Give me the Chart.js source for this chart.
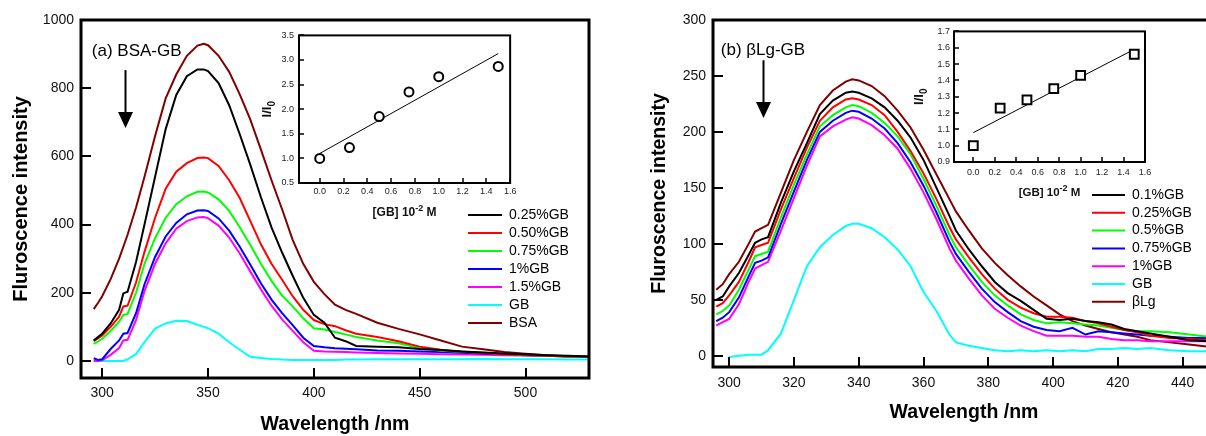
<!DOCTYPE html>
<html>
<head>
<meta charset="utf-8">
<script src="https://cdn.jsdelivr.net/npm/chart.js@4.4.1/dist/chart.umd.min.js"></script>
<style>
	html, body { margin: 0; padding: 0; background: #fff; overflow: hidden; width: 1206px; height: 436px; }
	canvas     { position: absolute; }
</style>
</head>
<body>
<canvas id="bsa"    width="600" height="436" style="left:0;top:0"></canvas>
<canvas id="bsaFit" width="260" height="200" style="left:260px;top:25px"></canvas>
<canvas id="blg"    width="576" height="436" style="left:640px;top:0"></canvas>
<canvas id="blgFit" width="250" height="190" style="left:910px;top:22px"></canvas>
<script>

// Panel (a) BSA-GB
var wlA     = [296,298,300,304,308,310,312,316,320,325,330,335,340,345,348,350,355,360,365,370,375,380,385,390,395,400,405,410,415,420,430,440,450,460,470,480,490,500,510,520,530];
var gb025   = [60,70,80,110,150,198,203,290,400,540,680,780,835,855,855,850,815,750,665,575,480,392,318,250,185,135,112,68,58,44,42,40,35,32,28,25,22,20,17,15,13];
var gb050   = [58,66,75,100,130,160,162,230,320,420,505,555,580,595,597,595,572,530,478,410,342,285,238,190,150,120,108,102,90,80,70,58,42,33,27,23,20,18,15,13,12];
var gb075   = [50,57,65,88,115,135,138,200,285,360,420,460,483,496,497,494,474,440,392,340,285,235,192,160,125,96,92,85,78,70,60,52,38,30,27,24,20,18,15,13,12];
var gb1A    = [8,3,5,35,60,80,82,140,225,305,365,405,430,441,442,440,418,382,335,282,228,180,140,105,68,44,40,37,36,34,31,30,28,26,24,22,20,17,15,13,12];
var gb15    = [0,0,2,18,38,60,62,120,205,285,345,388,410,421,422,419,397,362,315,262,210,162,122,88,55,30,28,27,26,25,23,22,21,20,19,18,17,16,15,14,13];
var gbA     = [0,0,0,0,0,0,5,20,55,95,110,118,117,106,100,96,80,55,33,12,9,6,4,3,3,3,3,3,4,4,5,5,5,5,5,6,5,5,5,4,4];
var bsa     = [152,170,190,240,300,335,370,450,540,660,770,840,895,925,930,926,895,848,782,708,620,530,445,355,285,232,196,165,150,138,112,94,78,60,42,34,26,21,17,14,12];

// Panel (b) bLg-GB
var wlB     = [296,298,300,303,306,308,310,312,316,320,324,328,332,336,338,340,344,348,352,356,360,364,368,370,374,378,382,386,390,394,398,402,406,410,414,418,422,426,430,436,442,448];
var gb01    = [50,53,62,74,90,101,104,106,137,165,190,216,228,235,236,235,230,222,210,195,175,150,125,112,95,80,66,56,49,41,33,32,33,31,30,28,24,22,20,17,14,13];
var gb025B  = [44,47,54,66,84,97,99,101,131,159,186,210,222,229,230,229,224,215,200,183,163,140,115,104,88,73,60,50,43,38,35,35,34,31,29,26,23,21,18,16,15,14];
var gb05    = [37,40,45,59,77,89,91,93,124,153,180,205,215,222,224,223,217,208,196,180,158,134,108,97,81,66,54,45,37,32,29,30,29,28,27,25,23,22,22,21,19,17];
var gb075B  = [31,34,39,52,71,83,85,88,118,147,175,200,210,217,219,218,212,203,190,173,152,128,102,91,75,60,48,39,31,26,23,22,25,19,22,21,20,19,18,17,16,16];
var gb1B    = [27,30,33,46,66,78,81,84,112,141,170,196,205,211,213,212,206,197,185,167,146,122,96,85,69,54,42,34,27,22,18,18,18,17,17,15,14,14,13,13,13,13];
var gbB     = [null,null,-1,0,1,1,1,5,20,50,80,97,108,116,118,118,114,106,95,80,57,40,19,12,9,7,5,4,5,4,5,4,5,4,6,6,7,6,7,5,4,4];
var blg     = [59,64,73,84,100,111,114,117,146,175,200,224,237,245,247,246,241,232,219,204,184,162,140,129,112,96,83,72,62,53,45,37,31,27,24,21,19,17,14,12,10,8];

// Insets: I/I0 against [GB]
var concA   = [0, 0.25, 0.5, 0.75, 1.0, 1.5];
var ratioA  = [1.0, 1.22, 1.85, 2.35, 2.66, 2.87];
var fitXA   = [0, 1.5];
var fitYA   = [1.10, 3.13];
var concB   = [0, 0.25, 0.5, 0.75, 1.0, 1.5];
var ratioB  = [1.0, 1.23, 1.28, 1.35, 1.43, 1.56];
var fitXB   = [0, 1.47];
var fitYB   = [1.08, 1.58];

// Ticks
var xTicksA   = [300, 350, 400, 450, 500];
var yTicksA   = [0, 200, 400, 600, 800, 1000];
var xTicksB   = [300, 320, 340, 360, 380, 400, 420, 440];
var yTicksB   = [0, 50, 100, 150, 200, 250, 300];
var xTicksIn  = [0, 0.2, 0.4, 0.6, 0.8, 1.0, 1.2, 1.4, 1.6];
var yTicksInA = [0.5, 1.0, 1.5, 2.0, 2.5, 3.0, 3.5];
var yTicksInB = [0.9, 1.0, 1.1, 1.2, 1.3, 1.4, 1.5, 1.6, 1.7];

var FONT = 'Arial, "Liberation Sans", sans-serif';
Chart.defaults.font.family = FONT;
Chart.defaults.color = '#111';

function pts(xs, ys) {
	var out = [];
	xs.forEach(function (x, i) { if (ys[i] !== null) out.push({x: x, y: ys[i]}); });
	return out;
}

function curve(label, xs, ys, color) {
	return { label: label, data: pts(xs, ys), borderColor: color, borderWidth: 2, showLine: true, pointRadius: 0, tension: 0 };
}

// box around the plot with inward ticks
var framePlugin = {
	id : 'frame',
	afterDatasetsDraw(chart, args, o) {
		var a = chart.chartArea, ctx = chart.ctx, xs = chart.scales.x, ys = chart.scales.y;
		ctx.save();
		ctx.strokeStyle = '#000';
		ctx.lineWidth = o.tickWidth;
		xs.ticks.forEach(function (t) {
			var p = Math.round(xs.getPixelForValue(t.value));
			ctx.beginPath(); ctx.moveTo(p, a.bottom); ctx.lineTo(p, a.bottom - o.tick); ctx.stroke();
		});
		ys.ticks.forEach(function (t) {
			var p = Math.round(ys.getPixelForValue(t.value));
			ctx.beginPath(); ctx.moveTo(a.left, p); ctx.lineTo(a.left + o.tick, p); ctx.stroke();
		});
		ctx.lineWidth = o.width;
		ctx.strokeRect(a.left, a.top, a.right - a.left, a.bottom - a.top);
		ctx.restore();
	}
};

// panel label and downward arrow
var notePlugin = {
	id : 'note',
	afterDraw(chart, args, o) {
		if (!o.text) return;
		var ctx = chart.ctx, xs = chart.scales.x, ys = chart.scales.y;
		ctx.save();
		ctx.fillStyle = '#000';
		ctx.strokeStyle = '#000';
		ctx.font = o.size + 'px ' + FONT;
		ctx.textBaseline = 'middle';
		ctx.fillText(o.text, xs.getPixelForValue(o.at[0]), ys.getPixelForValue(o.at[1]));
		var ax = Math.round(xs.getPixelForValue(o.arrow[0])) + 0.5;
		var y0 = ys.getPixelForValue(o.arrow[1]), y1 = ys.getPixelForValue(o.arrow[2]);
		ctx.lineWidth = 2;
		ctx.beginPath(); ctx.moveTo(ax, y0); ctx.lineTo(ax, y1 - 12); ctx.stroke();
		ctx.beginPath(); ctx.moveTo(ax - 7.5, y1 - 16); ctx.lineTo(ax + 7.5, y1 - 16); ctx.lineTo(ax, y1); ctx.closePath(); ctx.fill();
		ctx.restore();
	}
};

// legend drawn inside the plot
var keyPlugin = {
	id : 'key',
	afterDraw(chart, args, o) {
		if (!o.x) return;
		var ctx = chart.ctx;
		ctx.save();
		ctx.font = '14px ' + FONT;
		ctx.textBaseline = 'middle';
		ctx.fillStyle = '#000';
		chart.data.datasets.forEach(function (d, i) {
			var y = o.y + i * o.step;
			ctx.strokeStyle = d.borderColor;
			ctx.lineWidth = 2;
			ctx.beginPath(); ctx.moveTo(o.x, y); ctx.lineTo(o.x + o.len, y); ctx.stroke();
			ctx.fillText(d.label, o.x + o.len + o.gap, y);
		});
		ctx.restore();
	}
};

// inset axis titles with sub/superscripts
var inTitlePlugin = {
	id : 'inTitle',
	afterDraw(chart, args, o) {
		if (!o.xSize) return;
		var ctx = chart.ctx, a = chart.chartArea;
		ctx.save();
		ctx.fillStyle = '#111';
		ctx.textBaseline = 'alphabetic';
		var big = 'bold ' + o.xSize + 'px ' + FONT, small = 'bold ' + Math.round(o.xSize * 0.75) + 'px ' + FONT;
		var parts = [['[GB] 10', big, 0], ['-2', small, -5], [' M', big, 0]];
		var w = 0;
		parts.forEach(function (p) { ctx.font = p[1]; w += ctx.measureText(p[0]).width; });
		var x = (a.left + a.right) / 2 - w / 2, y = a.bottom + o.xOff;
		parts.forEach(function (p) { ctx.font = p[1]; ctx.fillText(p[0], x, y + p[2]); x += ctx.measureText(p[0]).width; });
		ctx.translate(o.yX, (a.top + a.bottom) / 2);
		ctx.rotate(-Math.PI / 2);
		ctx.font = 'bold 13px ' + FONT;
		var w1 = ctx.measureText('I/I').width;
		ctx.font = 'bold 10px ' + FONT;
		var w2 = ctx.measureText('0').width;
		ctx.font = 'bold 13px ' + FONT;
		ctx.fillText('I/I', -(w1 + w2) / 2, 0);
		ctx.font = 'bold 10px ' + FONT;
		ctx.fillText('0', -(w1 + w2) / 2 + w1, 4);
		ctx.restore();
	}
};

Chart.register(framePlugin, notePlugin, keyPlugin, inTitlePlugin);

function setTicks(list) {
	return function (s) { s.ticks = list.map(function (v) { return {value: v}; }); };
}

function mainChart(id, o) {
	return new Chart(document.getElementById(id), {
		type : 'scatter',
		data : { datasets: o.datasets },
		options : {
			responsive       : false,
			animation        : false,
			devicePixelRatio : 1,
			layout  : { padding: { top: 20, right: o.padRight, left: 0, bottom: 0 } },
			plugins : {
				legend  : { display: false },
				tooltip : { enabled: false },
				frame   : { width: 3, tick: 10, tickWidth: 2 },
				note    : o.note,
				key     : o.key
			},
			scales : {
				x : {
					type  : 'linear', min: o.xMin, max: o.xMax,
					afterBuildTicks : setTicks(o.xTicks),
					afterFit        : function (s) { s.height = o.xHeight; },
					grid   : { display: false, drawTicks: false },
					border : { display: false },
					ticks  : { font: { size: 14 }, padding: o.xPad, callback: function (v) { return String(v); } },
					title  : { display: true, text: 'Wavelength /nm', color: '#000', font: { size: 19.5, weight: 'bold', lineHeight: 1 }, padding: { top: 0, bottom: o.xTitlePad } }
				},
				y : {
					min : o.yMin, max: o.yMax,
					afterBuildTicks : setTicks(o.yTicks),
					afterFit        : function (s) { s.width = o.yWidth; },
					grid   : { display: false, drawTicks: false },
					border : { display: false },
					ticks  : { font: { size: 14 }, padding: 7, callback: function (v) { return String(v); } },
					title  : { display: true, text: 'Fluroscence intensity', color: '#000', font: { size: o.yTitleSize, weight: 'bold', lineHeight: 1 }, padding: { top: o.yTitlePad, bottom: 0 } }
				}
			}
		}
	});
}

function insetChart(id, o) {
	return new Chart(document.getElementById(id), {
		type : 'scatter',
		data : {
			datasets : [{
				data            : pts(o.conc, o.ratio),
				pointStyle      : o.marker,
				pointRadius     : o.radius,
				borderWidth     : 2,
				borderColor     : '#000',
				backgroundColor : '#fff'
			},{
				data        : pts(o.fitX, o.fitY),
				showLine    : true,
				pointRadius : 0,
				borderWidth : 1,
				borderColor : '#000'
			}]
		},
		options : {
			responsive       : false,
			animation        : false,
			devicePixelRatio : 1,
			layout  : { padding: { top: o.top, right: o.right, left: 0, bottom: 0 } },
			plugins : {
				legend  : { display: false },
				tooltip : { enabled: false },
				frame   : { width: 2, tick: 5, tickWidth: 1.5 },
				inTitle : { xSize: o.titleSize, xOff: o.titleOff, yX: o.yTitleX }
			},
			scales : {
				x : {
					type : 'linear', min: o.xMin, max: 1.6,
					afterBuildTicks : setTicks(xTicksIn),
					afterFit        : function (s) { s.height = o.xHeight; },
					grid   : { display: false, drawTicks: false },
					border : { display: false },
					ticks  : { font: { size: 9 }, color: '#222', padding: o.xPad, callback: function (v) { return v.toFixed(1); } }
				},
				y : {
					min : o.yMin, max: o.yMax,
					afterBuildTicks : setTicks(o.yTicks),
					afterFit        : function (s) { s.width = o.yWidth; },
					grid   : { display: false, drawTicks: false },
					border : { display: false },
					ticks  : { font: { size: 9 }, color: '#222', padding: o.yPad, callback: function (v) { return v.toFixed(1); } }
				}
			}
		}
	});
}

// (a)
mainChart('bsa', {
	datasets : [
		curve('0.25%GB', wlA, gb025, '#000000'),
		curve('0.50%GB', wlA, gb050, '#ff0000'),
		curve('0.75%GB', wlA, gb075, '#00ff00'),
		curve('1%GB',    wlA, gb1A,  '#0000ff'),
		curve('1.5%GB',  wlA, gb15,  '#ff00ff'),
		curve('GB',      wlA, gbA,   '#00ffff'),
		curve('BSA',     wlA, bsa,   '#800000')
	],
	xMin : 290, xMax : 530, yMin : -50, yMax : 1000,
	xTicks : xTicksA, yTicks : yTicksA,
	padRight : 11, xHeight : 58, yWidth : 81, xPad : 7, xTitlePad : 2,
	yTitleSize : 20, yTitlePad : 11,
	note : { text: '(a) BSA-GB', size: 17, at: [295.1, 907], arrow: [310.8, 853, 683] },
	key  : { x: 468, y: 215, step: 18, len: 34, gap: 7 }
});

insetChart('bsaFit', {
	conc : concA, ratio : ratioA, fitX : fitXA, fitY : fitYA,
	marker : 'circle', radius : 4.5,
	xMin : -0.174, yMin : 0.5, yMax : 3.5, yTicks : yTicksInA,
	top : 7, right : 7, xHeight : 42, yWidth : 39, xPad : 3.6, yPad : 5,
	titleSize : 12, titleOff : 33, yTitleX : 11
});

// (b)
mainChart('blg', {
	datasets : [
		curve('0.1%GB',  wlB, gb01,   '#000000'),
		curve('0.25%GB', wlB, gb025B, '#ff0000'),
		curve('0.5%GB',  wlB, gb05,   '#00ff00'),
		curve('0.75%GB', wlB, gb075B, '#0000ff'),
		curve('1%GB',    wlB, gb1B,   '#ff00ff'),
		curve('GB',      wlB, gbB,    '#00ffff'),
		curve('\u03b2Lg', wlB, blg,   '#800000')
	],
	xMin : 295, xMax : 450, yMin : -10, yMax : 300,
	xTicks : xTicksB, yTicks : yTicksB,
	padRight : 1, xHeight : 69, yWidth : 73, xPad : 7.5, xTitlePad : 14,
	yTitleSize : 19.5, yTitlePad : 9.5,
	note : { text: '(b) \u03b2Lg-GB', size: 17, at: [297.4, 273], arrow: [310.5, 264, 212.5] },
	key  : { x: 452, y: 195, step: 17.8, len: 33, gap: 7 }
});

insetChart('blgFit', {
	conc : concB, ratio : ratioB, fitX : fitXB, fitY : fitYB,
	marker : 'rect', radius : 6.2,
	xMin : -0.18, yMin : 0.9, yMax : 1.7, yTicks : yTicksInB,
	top : 8, right : 15, xHeight : 50, yWidth : 44, xPad : 5.6, yPad : 4,
	titleSize : 11.5, titleOff : 34, yTitleX : 13
});

</script>
</body>
</html>
